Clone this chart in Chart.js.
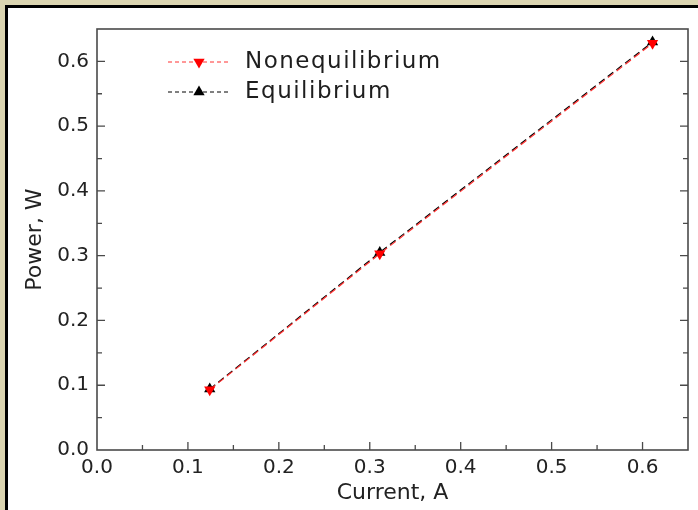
<!DOCTYPE html>
<html>
<head>
<meta charset="utf-8">
<script src="https://cdn.jsdelivr.net/npm/chart.js@4"></script>
<style>
  html, body { margin: 0; padding: 0; }
  body { width: 698px; height: 510px; background: #dbd5b1; position: relative; overflow: hidden; }
  #frame { position: absolute; left: 5px; top: 5px; width: 690px; height: 502px;
           border-left: 3px solid #000; border-top: 3px solid #000; background: #fff; }
  #chart { display: block; }
</style>
</head>
<body>
<div id="frame"><canvas id="chart" width="690" height="502"></canvas></div>
<script>
// ---- data ----
const seriesNames = ['Nonequilibrium', 'Equilibrium'];
const current = [0.124, 0.311, 0.611];          // A
const powerNoneq = [0.093, 0.303, 0.628];       // W
const powerEq = [0.094, 0.305, 0.630];          // W
const xTicks = [0.0, 0.1, 0.2, 0.3, 0.4, 0.5, 0.6];
const yTicks = [0.0, 0.1, 0.2, 0.3, 0.4, 0.5, 0.6];

const FONT = "'DejaVu Sans', Verdana, sans-serif";
const AXIS = '#4a4a4a';

// box around plot + inward ticks (major 0.1, minor 0.05), drawn from the scales
const frameTicks = {
  id: 'frameTicks',
  afterDraw(c) {
    const { ctx, chartArea: a, scales } = c;
    ctx.save();
    ctx.strokeStyle = AXIS;
    ctx.lineWidth = 1.6;
    ctx.strokeRect(a.left, a.top, a.right - a.left, a.bottom - a.top);
    ctx.lineWidth = 1.3;
    ctx.beginPath();
    for (let i = 0; i <= 13; i++) {
      const v = i * 0.05, len = i % 2 ? 5 : 8;
      const x = scales.x.getPixelForValue(v);
      if (x > a.left + 1 && x < a.right - 1) { ctx.moveTo(x, a.bottom); ctx.lineTo(x, a.bottom - len); }
      const y = scales.y.getPixelForValue(v);
      if (y > a.top + 1 && y < a.bottom - 1) {
        ctx.moveTo(a.left, y); ctx.lineTo(a.left + len, y);
        ctx.moveTo(a.right, y); ctx.lineTo(a.right - len, y);
      }
    }
    ctx.stroke();
    ctx.restore();
  }
};

// legend inside the plot, upper left
const innerLegend = {
  id: 'innerLegend',
  afterDraw(c) {
    const { ctx, chartArea: a } = c;
    ctx.save();
    c.data.datasets.forEach((ds, i) => {
      const y = a.top + 33 + i * 30;
      const x0 = a.left + 71, x1 = a.left + 133, xm = (x0 + x1) / 2;
      ctx.strokeStyle = ds.borderColor;
      ctx.lineWidth = 1;
      ctx.setLineDash([4, 3]);
      ctx.beginPath(); ctx.moveTo(x0, y); ctx.lineTo(x1, y); ctx.stroke();
      ctx.setLineDash([]);
      ctx.fillStyle = ds.pointBackgroundColor;
      ctx.beginPath();
      const r = 6.5, d = ds.pointRotation ? -1 : 1;
      ctx.moveTo(xm, y - d * r);
      ctx.lineTo(xm + r * 0.87, y + d * r * 0.5);
      ctx.lineTo(xm - r * 0.87, y + d * r * 0.5);
      ctx.closePath(); ctx.fill();
      ctx.fillStyle = '#1e1e1e';
      ctx.font = '23px ' + FONT;
      ctx.letterSpacing = '1.5px';
      ctx.textBaseline = 'middle';
      ctx.fillText(ds.label, a.left + 148, y);
      ctx.letterSpacing = '0px';
    });
    ctx.restore();
  }
};

const toXY = (xs, ys) => xs.map((x, i) => ({ x, y: ys[i] }));

new Chart(document.getElementById('chart'), {
  type: 'scatter',
  data: {
    datasets: [
      {
        label: seriesNames[0], data: toXY(current, powerNoneq), showLine: true,
        borderColor: '#ff3030', borderWidth: 1.2, borderDash: [7, 4],
        pointStyle: 'triangle', pointRotation: 180, pointRadius: 6.5, pointHoverRadius: 6.5,
        pointBackgroundColor: '#ff0000', pointBorderColor: '#ff0000', pointBorderWidth: 0
      },
      {
        label: seriesNames[1], data: toXY(current, powerEq), showLine: true,
        borderColor: '#000000', borderWidth: 1.2, borderDash: [7, 4],
        pointStyle: 'triangle', pointRadius: 6.5, pointHoverRadius: 6.5,
        pointBackgroundColor: '#000000', pointBorderColor: '#000000', pointBorderWidth: 0
      }
    ]
  },
  options: {
    responsive: false, animation: false,
    layout: { padding: { top: 21, right: 10, left: 0, bottom: 0 } },
    plugins: { legend: { display: false }, tooltip: { enabled: false } },
    scales: {
      x: {
        type: 'linear', min: 0, max: 0.65,
        afterBuildTicks: s => { s.ticks = xTicks.map(v => ({ value: v })); },
        afterFit: s => { s.height = 60; },
        grid: { display: false, drawTicks: false }, border: { display: false },
        ticks: { padding: 6, color: '#222', font: { family: FONT, size: 20 }, callback: v => v.toFixed(1), maxRotation: 0 },
        title: { display: true, text: 'Current, A', color: '#222', font: { family: FONT, size: 22 }, padding: { top: 0, bottom: 4 } }
      },
      y: {
        type: 'linear', min: 0, max: 0.65,
        afterBuildTicks: s => { s.ticks = yTicks.map(v => ({ value: v })); },
        afterFit: s => { s.width = 89; },
        grid: { display: false, drawTicks: false }, border: { display: false },
        ticks: { padding: 8, color: '#222', font: { family: FONT, size: 20 }, callback: v => v.toFixed(1) },
        title: { display: true, text: 'Power, W', color: '#222', font: { family: FONT, size: 22 }, padding: { top: 14, bottom: 0 } }
      }
    }
  },
  plugins: [frameTicks, innerLegend]
});
</script>
</body>
</html>
